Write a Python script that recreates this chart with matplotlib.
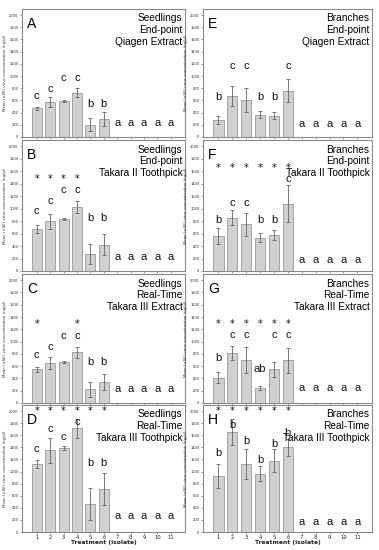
import matplotlib
matplotlib.use("Agg")
import matplotlib.pyplot as plt

# -------------------------------------------------
# Data, treatments 1..11
# -------------------------------------------------
treatments = list(range(1, 12))

panel_ids = ["A", "B", "C", "D", "E", "F", "G", "H"]
titles = {
    "A": "Seedlings\nEnd-point\nQiagen Extract",
    "B": "Seedlings\nEnd-point\nTakara II Toothpick",
    "C": "Seedlings\nReal-Time\nTakara III Extract",
    "D": "Seedlings\nReal-Time\nTakara III Toothpick",
    "E": "Branches\nEnd-point\nQiagen Extract",
    "F": "Branches\nEnd-point\nTakara II Toothpick",
    "G": "Branches\nReal-Time\nTakara III Extract",
    "H": "Branches\nReal-Time\nTakara III Toothpick",
}

means = {
    "A": [470, 570, 590, 730, 200, 300, 0, 0, 0, 0, 0],
    "B": [670, 800, 830, 1030, 280, 420, 0, 0, 0, 0, 0],
    "C": [546, 650, 667, 825, 224, 344, 0, 0, 0, 0, 0],
    "D": [1127, 1348, 1392, 1713, 464, 713, 0, 0, 0, 0, 0],
    "E": [280, 674, 603, 367, 350, 762, 0, 0, 0, 0, 0],
    "F": [562, 854, 746, 535, 584, 1081, 0, 0, 0, 0, 0],
    "G": [408, 815, 696, 245, 549, 696, 0, 0, 0, 0, 0],
    "H": [923, 1652, 1127, 967, 1182, 1403, 0, 0, 0, 0, 0],
}

errors = {
    "A": [30, 85, 10, 70, 105, 115, 0, 0, 0, 0, 0],
    "B": [60, 120, 20, 95, 160, 170, 0, 0, 0, 0, 0],
    "C": [40, 100, 15, 90, 125, 125, 0, 0, 0, 0, 0],
    "D": [70, 200, 35, 160, 265, 265, 0, 0, 0, 0, 0],
    "E": [70, 165, 200, 55, 60, 185, 0, 0, 0, 0, 0],
    "F": [135, 120, 185, 75, 80, 295, 0, 0, 0, 0, 0],
    "G": [90, 110, 215, 35, 125, 205, 0, 0, 0, 0, 0],
    "H": [200, 215, 250, 125, 190, 140, 0, 0, 0, 0, 0],
}

# significance letters and the height at which they are written
letters = {
    "A": ["c", "c", "c", "c", "b", "b", "a", "a", "a", "a", "a"],
    "B": ["c", "c", "c", "c", "b", "b", "a", "a", "a", "a", "a"],
    "C": ["c", "c", "c", "c", "b", "b", "a", "a", "a", "a", "a"],
    "D": ["c", "c", "c", "c", "b", "b", "a", "a", "a", "a", "a"],
    "E": ["b", "c", "c", "b", "b", "c", "a", "a", "a", "a", "a"],
    "F": ["b", "c", "c", "b", "b", "c", "a", "a", "a", "a", "a"],
    "G": ["b", "c", "c", "ab", "c", "c", "a", "a", "a", "a", "a"],
    "H": ["b", "b", "b", "b", "b", "b", "a", "a", "a", "a", "a"],
}
letter_y = {
    "A": [665, 785, 975, 975, 545, 545, 234, 234, 234, 234, 234],
    "B": [967, 1119, 1292, 1292, 849, 849, 227, 227, 227, 227, 227],
    "C": [787, 918, 1093, 1093, 667, 667, 224, 224, 224, 224, 224],
    "D": [1376, 1696, 1569, 1823, 1144, 1144, 260, 260, 260, 260, 260],
    "E": [652, 1167, 1167, 652, 652, 1167, 220, 220, 220, 220, 220],
    "F": [822, 1092, 1092, 822, 822, 1470, 173, 173, 173, 173, 173],
    "G": [739, 1103, 1103, 554, 1103, 1103, 245, 245, 245, 245, 245],
    "H": [1309, 1762, 1503, 1188, 1459, 1641, 160, 160, 160, 160, 160],
}

# treatments marked with a star, and the star height
stars = {
    "A": [], "E": [],
    "B": [1, 2, 3, 4],
    "C": [1, 4],
    "D": [1, 2, 3, 4, 5, 6],
    "F": [1, 2, 3, 4, 5, 6],
    "G": [1, 2, 3, 4, 5, 6],
    "H": [1, 2, 3, 4, 5, 6],
}
star_y = {"A": 0, "E": 0, "B": 1480, "C": 1290, "D": 2000,
          "F": 1649, "G": 1288, "H": 1994}

yticks = list(range(0, 2001, 200))

# -------------------------------------------------
# Layout (pixels of a 379 x 550 figure)
# -------------------------------------------------
W, H = 379, 550
fig = plt.figure(figsize=(W / 100, H / 100), dpi=100)

col_x = [(22, 185), (203, 372)]
row_y = [(9, 137), (140, 271), (274, 403), (405, 532)]

for i, pid in enumerate(panel_ids):
    col = i // 4
    row = i % 4
    x0, x1 = col_x[col]
    y0, y1 = row_y[row]
    ax = fig.add_axes([x0 / W, 1 - y1 / H, (x1 - x0) / W, (y1 - y0) / H])

    ax.bar(treatments, means[pid], width=0.75, color="#d0d0d0",
           edgecolor="#9a9a9a", linewidth=0.6, zorder=2)
    nz = [k for k in range(len(treatments)) if means[pid][k] > 0]
    ax.errorbar([treatments[k] for k in nz], [means[pid][k] for k in nz],
                yerr=[errors[pid][k] for k in nz], fmt="none",
                ecolor="#666666", elinewidth=0.6, capsize=1.5,
                capthick=0.6, zorder=3)

    for t, lab, ly in zip(treatments, letters[pid], letter_y[pid]):
        ax.text(t, ly, lab, ha="center", va="center", fontsize=8,
                color="#111111", family="Liberation Sans")
    for t in stars[pid]:
        ax.text(t, star_y[pid], "*", ha="center", va="center",
                fontsize=7, color="#111111")

    ax.text(0.03, 0.94, pid, transform=ax.transAxes, ha="left", va="top",
            fontsize=10, family="Liberation Sans")
    ax.text(0.985, 0.965, titles[pid], transform=ax.transAxes, ha="right",
            va="top", fontsize=7.3, linespacing=1.2,
            family="Liberation Sans")

    ax.set_xlim(-0.1, 12.05)
    ax.set_ylim(0, 2100)
    ax.set_xticks(treatments)
    ax.set_yticks(yticks)
    ax.tick_params(axis="both", length=1.5, width=0.4, colors="#555555",
                   labelsize=2.6, pad=1)
    ax.tick_params(axis="x", labelsize=3.8, labelcolor="#222222")
    ax.tick_params(axis="y", labelcolor="#333333")
    if row < 3:
        ax.set_xticklabels([])
    else:
        ax.set_xlabel("Treatment (isolate)", fontsize=4.3,
                      fontweight="bold", labelpad=0, color="#222222")
    ax.set_ylabel("Mean (\u00b1SE) virus concentration (ng/\u00b5l)",
                  fontsize=2.8, labelpad=1.5, color="#333333")
    for s in ax.spines.values():
        s.set_color("#8a8a8a")
        s.set_linewidth(0.8)

fig.savefig("out.png", dpi=100)
